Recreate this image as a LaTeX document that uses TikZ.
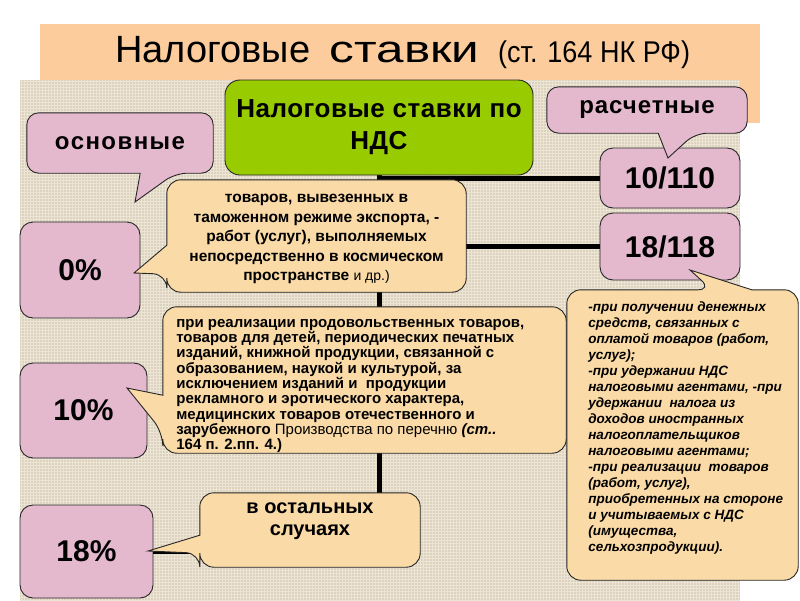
\documentclass[tikz,border=0pt]{standalone}
\usepackage{fontspec}
\setmainfont{Liberation Sans}
\newfontfamily\narrowfont[FakeStretch=0.9]{Liberation Sans}
\definecolor{pkx}{RGB}{228,185,205}
\definecolor{tnx}{RGB}{250,218,166}
\definecolor{grx}{RGB}{153,204,0}
\definecolor{pcx}{RGB}{252,204,156}
\definecolor{bgx}{RGB}{220,210,190}
\definecolor{bgl}{RGB}{236,229,214}
\tikzset{
    pbox/.style={fill=pkx,draw=black!85,line width=0.9pt,rounded corners=13pt,inner sep=0pt,
        font=\bfseries\fontsize{30}{30}\selectfont},
    gbox/.style={fill=grx,draw=black!85,line width=0.9pt,rounded corners=15pt,inner sep=0pt,
        align=center,font=\bfseries\fontsize{26}{32}\selectfont\addfontfeature{LetterSpace=2}},
    cbox/.style={inner sep=0pt},
    tfill/.style={fill=tnx,draw=black!85,line width=0.9pt,rounded corners=14pt},
    pfill/.style={fill=pkx,draw=black!85,line width=0.9pt,rounded corners=12pt},
    conn/.style={line width=5pt}
}

\begin{document}
\begin{tikzpicture}[x=1pt,y=-1pt]
    \useasboundingbox (0,0) rectangle (800,600);
    \fill[pcx] (40,24) rectangle (760,123);
    \fill[bgx] (20,80) rectangle (740,600);
    \draw[bgl,line width=0.6pt,step=3pt] (20,80) grid (740,600);
    \node[anchor=base west,inner sep=0pt] (title) at (115,62)
        {\fontsize{38}{38}\selectfont Налоговые\hspace{9pt} \scalebox{1.3}[1]{ставки}\hspace{8pt}
         \narrowfont\fontsize{30}{30}\selectfont(ст. 164 НК РФ)};

    \coordinate (osntip) at (135,202);
    \coordinate (c0tip) at (134,273);
    \coordinate (c10tip) at (127,388);
    \coordinate (c18tip) at (148,551);
    \coordinate (raschtip) at (668,158);
    \coordinate (crtip) at (690,270);

    \path node[cbox,minimum width=186,minimum height=60] (osn) at (120,143) {}
        node[cbox,minimum width=200,minimum height=46] (rasch) at (647,110) {}
        node[cbox,minimum width=299,minimum height=112] (c0) at (316.5,236) {}
        node[cbox,minimum width=403,minimum height=146] (c10) at (364.5,380) {}
        node[cbox,minimum width=220,minimum height=74] (c18) at (310,530) {}
        node[cbox,minimum width=231,minimum height=290] (cr) at (682.5,435) {};

    \node[pbox,minimum width=120,minimum height=96] (zero) at (80,270) {0\%};
    \node[pbox,minimum width=127,minimum height=95] (ten) at (83.5,410.5) {10\%};
    \node[pbox,minimum width=133,minimum height=93] (eighteen) at (86.5,551.5) {18\%};
    \node[pbox,minimum width=140,minimum height=60] (r10) at (670,178) {10/110};
    \node[pbox,minimum width=140,minimum height=67] (r18) at (670,246.5) {18/118};

    \draw[conn] (379,175) -- (379,175 |- eighteen.east) -- (eighteen.east);
    \draw[conn] (379,175 |- zero.east) -- (zero.east);
    \draw[conn] (379,175 |- ten.east) -- (ten.east);
    \draw[conn] (379,175 |- r10.west) -- (r10.west);
    \draw[conn] (379,175 |- r18.west) -- (r18.west);

    \node[gbox,minimum width=308,minimum height=95] (vat) at (379,127.5) {Налоговые ставки по\\НДС};

    \draw[pfill] (osn.north) -- (osn.north east) -- (osn.south east)
        -- ([xshift=-38pt]osn.south east) [sharp corners] -- (osntip)
        -- ([xshift=-73pt]osn.south east) [rounded corners=12pt] -- (osn.south west)
        -- (osn.north west) -- cycle;
    \node[font=\bfseries\fontsize{24}{24}\selectfont\addfontfeature{LetterSpace=6}] (osnt) at (osn) {основные};

    \draw[pfill] (rasch.north) -- (rasch.north east) -- (rasch.south east)
        -- ([xshift=-52pt]rasch.south east) [sharp corners] -- (raschtip)
        -- ([xshift=-89pt]rasch.south east) [rounded corners=12pt] -- (rasch.south west)
        -- (rasch.north west) -- cycle;
    \node[font=\bfseries\fontsize{24}{24}\selectfont\addfontfeature{LetterSpace=4}] (rascht) at (rasch) {расчетные};

    \draw[tfill] (c0.north) -- (c0.north east) -- (c0.south east) -- (c0.south west)
        -- ([yshift=18pt]c0.south west) [sharp corners] -- (c0tip)
        -- ([yshift=47pt]c0.south west) [rounded corners=14pt] -- (c0.north west) -- cycle;
    \node[align=center,font=\bfseries\fontsize{15.5}{19.5}\selectfont] (c0t) at ([yshift=-3pt]c0.center)
        {товаров, вывезенных в\\таможенном режиме экспорта, -\\работ (услуг), выполняемых\\
         непосредственно в космическом\\пространстве \mdseries\fontsize{14}{19.5}\selectfont и др.)};

    \draw[tfill] (c10.north) -- (c10.north east) -- (c10.south east) -- (c10.south west)
        -- ([yshift=21pt]c10.south west) [sharp corners] -- (c10tip)
        -- ([yshift=58pt]c10.south west) [rounded corners=14pt] -- (c10.north west) -- cycle;
    \node[align=left,anchor=west,font=\bfseries\fontsize{15}{15.3}\selectfont] (c10t)
        at ([xshift=10pt,yshift=-6pt]c10.west)
        {при реализации продовольственных товаров,\\товаров для детей, периодических печатных\\
         изданий, книжной продукции, связанной с\\образованием, наукой и культурой, за\\
         исключением изданий и\ \ продукции\\рекламного и эротического характера,\\
         медицинских товаров отечественного и\\
         зарубежного {\mdseries Производства по перечню} \itshape (ст..\\164 п. 2.пп. 4.)};

    \draw[tfill] (c18.north) -- (c18.north east) -- (c18.south east) -- (c18.south west)
        -- ([yshift=14pt]c18.south west) [sharp corners] -- (c18tip)
        -- ([yshift=32pt]c18.south west) [rounded corners=14pt] -- (c18.north west) -- cycle;
    \node[align=center,font=\bfseries\fontsize{20}{22}\selectfont] (c18t) at ([yshift=9pt]c18.center)
        {в остальных\\случаях};

    \draw[tfill] (cr.south) -- (cr.south west) -- (cr.north west)
        -- ([xshift=145pt]cr.north west) [sharp corners] -- (crtip)
        -- ([xshift=185pt]cr.north west) [rounded corners=14pt] -- (cr.north east)
        -- (cr.south east) -- cycle;
    \node[align=left,anchor=west,font=\bfseries\itshape\fontsize{13.5}{16}\selectfont] (crt)
        at ([xshift=18pt,yshift=7pt]cr.west)
        {-при\ получении\ денежных\\средств,\ связанных\ с\\оплатой\ товаров (работ,\\услуг);\\
         -при\ удержании\ НДС\\налоговыми\ агентами, -при\\удержании\ \ налога\ из\\
         доходов\ иностранных\\налогоплательщиков\\налоговыми\ агентами;\\
         -при\ реализации\ \ товаров\\(работ,\ услуг),\\приобретенных\ на\ стороне\\
         и\ учитываемых\ с\ НДС\\(имущества,\\сельхозпродукции).};
\end{tikzpicture}
\end{document}
